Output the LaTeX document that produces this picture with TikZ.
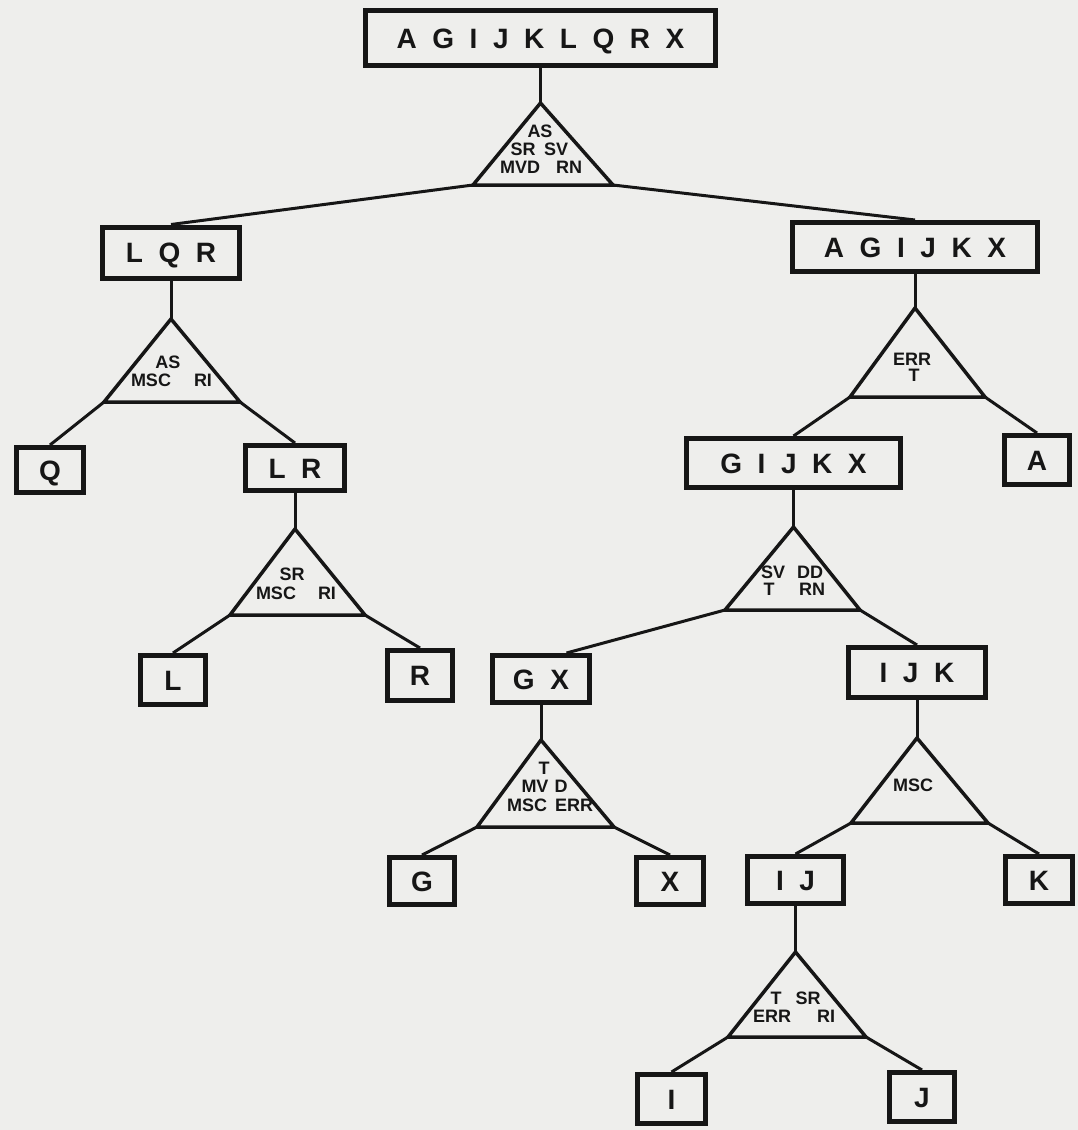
\documentclass[tikz,border=0pt]{standalone}
\usepackage{fontspec}
\usetikzlibrary{calc}
\setmainfont{Liberation Sans}
\newfontfamily\boxfont[WordSpace=2.0]{Liberation Sans}
\definecolor{paper}{RGB}{238,238,236}
\definecolor{ink}{RGB}{22,22,22}
\tikzset{
  setbox/.style={draw=ink, line width=5pt, fill=paper, inner sep=0pt,
    font=\boxfont\bfseries\fontsize{28}{30}\selectfont, text=ink,
    text height=20pt, text depth=0pt},
  tri/.style={draw=ink, line width=3.5pt, line join=miter, fill=paper},
  conn/.style={draw=ink, line width=3pt},
  crit/.style={inner sep=0pt, font=\bfseries\fontsize{18}{19}\selectfont, text=ink,
    text height=12.9pt, text depth=0pt, anchor=center},
}
\begin{document}
\begin{tikzpicture}[x=1pt,y=-1pt]
\fill[paper] (0,0) rectangle (1078,1130);
\useasboundingbox (0,0) rectangle (1078,1130);

% triangle corner coordinates
\coordinate (t1a) at (540.5,103); \coordinate (t1l) at (473,185);  \coordinate (t1r) at (613,185);
\coordinate (t2a) at (171,319);   \coordinate (t2l) at (104,402);  \coordinate (t2r) at (240,402);
\coordinate (t3a) at (295,529);   \coordinate (t3l) at (230,615);  \coordinate (t3r) at (365,615);
\coordinate (t4a) at (915,308);   \coordinate (t4l) at (850,397);  \coordinate (t4r) at (985,397);
\coordinate (t5a) at (793.5,527); \coordinate (t5l) at (725,610);  \coordinate (t5r) at (860,610);
\coordinate (t6a) at (541,740);   \coordinate (t6l) at (477,827);  \coordinate (t6r) at (614,827);
\coordinate (t7a) at (917,738);   \coordinate (t7l) at (851,823);  \coordinate (t7r) at (988,823);
\coordinate (t8a) at (795.5,952); \coordinate (t8l) at (728,1037); \coordinate (t8r) at (866,1037);

% boxes
\node[setbox, minimum width=350pt, minimum height=55pt] (root) at (540.5,38) {A G I J K L Q R X};
\node[setbox, minimum width=137pt, minimum height=51pt] (lqr) at (171,252.5) {L Q R};
\node[setbox, minimum width=245pt, minimum height=49pt] (agijkx) at (915,247) {A G I J K X};
\node[setbox, minimum width=67pt, minimum height=45pt] (q) at (50,470) {Q};
\node[setbox, minimum width=99pt, minimum height=45pt] (lr) at (295,468) {L R};
\node[setbox, minimum width=214pt, minimum height=49pt] (gijkx) at (793.5,463) {G I J K X};
\node[setbox, minimum width=65pt, minimum height=49pt] (a) at (1037,460) {A};
\node[setbox, minimum width=65pt, minimum height=49pt] (l) at (173,680) {L};
\node[setbox, minimum width=65pt, minimum height=50pt] (r) at (420,675.5) {R};
\node[setbox, minimum width=97pt, minimum height=47pt] (gx) at (541,679) {G X};
\node[setbox, minimum width=137pt, minimum height=50pt] (ijk) at (917,672.5) {I J K};
\node[setbox, minimum width=65pt, minimum height=47pt] (g) at (422,881) {G};
\node[setbox, minimum width=67pt, minimum height=47pt] (x) at (670,881) {X};
\node[setbox, minimum width=96pt, minimum height=47pt] (ij) at (795.5,880) {I J};
\node[setbox, minimum width=67pt, minimum height=47pt] (k) at (1039,880) {K};
\node[setbox, minimum width=68pt, minimum height=49pt] (i) at (671.5,1099) {I};
\node[setbox, minimum width=65pt, minimum height=49pt] (j) at (922,1097) {J};

% connectors
\draw[conn] (root.south) -- (t1a);
\draw[conn] (t1l) -- (lqr.north);
\draw[conn] (t1r) -- (agijkx.north);
\draw[conn] (lqr.south) -- (t2a);
\draw[conn] (t2l) -- (q.north);
\draw[conn] (t2r) -- (lr.north);
\draw[conn] (lr.south) -- (t3a);
\draw[conn] (t3l) -- (l.north);
\draw[conn] (t3r) -- (r.north);
\draw[conn] (agijkx.south) -- (t4a);
\draw[conn] (t4l) -- (gijkx.north);
\draw[conn] (t4r) -- (a.north);
\draw[conn] (gijkx.south) -- (t5a);
\draw[conn] (t5l) -- ($(gx.north)!0.5!(gx.north east)$);
\draw[conn] (t5r) -- (ijk.north);
\draw[conn] (gx.south) -- (t6a);
\draw[conn] (t6l) -- (g.north);
\draw[conn] (t6r) -- (x.north);
\draw[conn] (ijk.south) -- (t7a);
\draw[conn] (t7l) -- (ij.north);
\draw[conn] (t7r) -- (k.north);
\draw[conn] (ij.south) -- (t8a);
\draw[conn] (t8l) -- (i.north);
\draw[conn] (t8r) -- (j.north);

% triangles
\foreach \t in {t1,t2,t3,t4,t5,t6,t7,t8}
  \draw[tri] (\t a) -- (\t l) -- (\t r) -- cycle;

% criteria text
\node[crit] (c1a) at (540,131) {AS};
\node[crit] (c1b) at (523,149) {SR};
\node[crit] (c1c) at (556,149) {SV};
\node[crit] (c1d) at (520,167) {MVD};
\node[crit] (c1e) at (569,167) {RN};

\node[crit] (c2a) at (168,362) {AS};
\node[crit] (c2b) at (151,380) {MSC};
\node[crit] (c2c) at (203,380) {RI};

\node[crit] (c3a) at (292,574) {SR};
\node[crit] (c3b) at (276,593) {MSC};
\node[crit] (c3c) at (327,593) {RI};

\node[crit] (c4a) at (912,359) {ERR};
\node[crit] (c4b) at (914,375) {T};

\node[crit] (c5a) at (773,572) {SV};
\node[crit] (c5b) at (810,572) {DD};
\node[crit] (c5c) at (769,589) {T};
\node[crit] (c5d) at (812,589) {RN};

\node[crit] (c6a) at (544,768) {T};
\node[crit] (c6b) at (535,786) {MV};
\node[crit] (c6c) at (561,786) {D};
\node[crit] (c6d) at (527,805) {MSC};
\node[crit] (c6e) at (574,805) {ERR};

\node[crit] (c7a) at (913,785) {MSC};

\node[crit] (c8a) at (776,998) {T};
\node[crit] (c8b) at (808,998) {SR};
\node[crit] (c8c) at (772,1016) {ERR};
\node[crit] (c8d) at (826,1016) {RI};
\end{tikzpicture}
\end{document}
